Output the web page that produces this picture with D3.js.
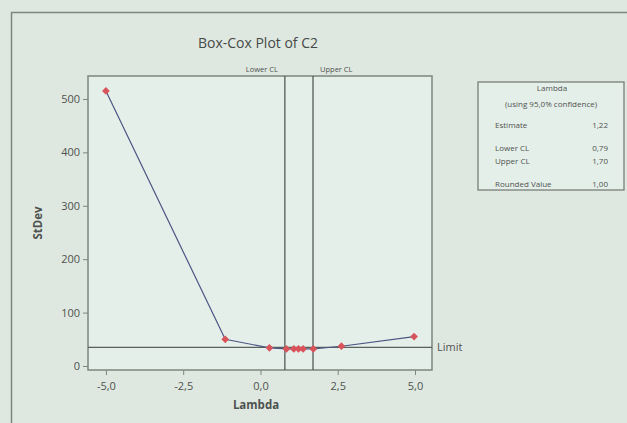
<!doctype html>
<html>
<head>
<meta charset="utf-8">
<title>Box-Cox Plot of C2</title>
<script src="https://cdn.jsdelivr.net/npm/d3@7"></script>
<style>
  body { margin: 0; background: #dfe8e0; }
  svg { display: block; }
</style>
</head>
<body>
<script>
// data
const lambdas = [-5.0, -1.14, 0.29, 0.84, 1.08, 1.23, 1.38, 1.71, 2.62, 4.97];
const stdevs  = [515, 50, 34, 32, 32, 32, 32, 32, 37, 55];
const xTicks = [-5, -2.5, 0, 2.5, 5];
const yTicks = [0, 100, 200, 300, 400, 500];
const lowerCL = 0.79, upperCL = 1.70, limit = 35;
const legendRows = [["Estimate", "1,22"], ["Lower CL", "0,79"], ["Upper CL", "1,70"], ["Rounded Value", "1,00"]];

const w = 627, h = 423;
const font = "'Open Sans', 'DejaVu Sans', sans-serif";
const txt = "#4e524f";

const svg = d3.select("body").append("svg")
  .attr("width", w).attr("height", h)
  .style("font-family", font);

svg.append("rect").attr("width", w).attr("height", h).attr("fill", "#dfe8e0");
// outer frame (runs off right and bottom)
svg.append("rect").attr("x", 11.5).attr("y", 12.5).attr("width", 640).attr("height", 440)
  .attr("fill", "none").attr("stroke", "#7d857f").attr("stroke-width", 1.5);

const pL = 88, pR = 432, pT = 76, pB = 370;
const x = d3.scaleLinear().domain([-5.58, 5.55]).range([pL, pR]);
const y = d3.scaleLinear().domain([-7.5, 543]).range([pB, pT]);

svg.append("rect").attr("x", pL).attr("y", pT).attr("width", pR - pL).attr("height", pB - pT)
  .attr("fill", "#e5efe9");

// axes
const fmt = d => d3.format(".1f")(d).replace(".", ",").replace("−", "-");
const xAxis = svg.append("g").attr("transform", `translate(0,${pB})`)
  .call(d3.axisBottom(x).tickValues(xTicks).tickFormat(fmt).tickSize(5).tickSizeOuter(0));
const yAxis = svg.append("g").attr("transform", `translate(${pL},0)`)
  .call(d3.axisLeft(y).tickValues(yTicks).tickSize(5).tickSizeOuter(0));
[xAxis, yAxis].forEach(g => {
  g.select(".domain").remove();
  g.selectAll("line").attr("stroke", "#7d857f");
  g.selectAll("text").attr("fill", txt).style("font-size", "11px").style("font-family", font);
});
xAxis.selectAll("text").attr("dy", "1.1em");

svg.append("rect").attr("x", pL).attr("y", pT).attr("width", pR - pL).attr("height", pB - pT)
  .attr("fill", "none").attr("stroke", "#7d857f").attr("stroke-width", 1.5);

// reference lines
[lowerCL, upperCL].forEach(v => {
  svg.append("line").attr("x1", x(v)).attr("x2", x(v)).attr("y1", pT).attr("y2", pB)
    .attr("stroke", "#4a4f4c").attr("stroke-width", 1.2);
});
svg.append("line").attr("x1", pL).attr("x2", pR).attr("y1", y(limit)).attr("y2", y(limit))
  .attr("stroke", "#5a605c").attr("stroke-width", 1.2);
svg.append("text").attr("x", pR + 5).attr("y", y(limit)).attr("dy", "0.35em")
  .attr("fill", txt).style("font-size", "11px").text("Limit");
svg.append("text").attr("x", x(lowerCL) - 7).attr("y", 72).attr("text-anchor", "end")
  .attr("fill", txt).style("font-size", "7.5px").text("Lower CL");
svg.append("text").attr("x", x(upperCL) + 7).attr("y", 72)
  .attr("fill", txt).style("font-size", "7.5px").text("Upper CL");

// series
const pts = lambdas.map((l, i) => [l, stdevs[i]]);
svg.append("path").datum(pts)
  .attr("d", d3.line().x(d => x(d[0])).y(d => y(d[1])))
  .attr("fill", "none").attr("stroke", "#4b5683").attr("stroke-width", 1.2);
svg.selectAll(".pt").data(pts).enter().append("path").attr("class", "pt")
  .attr("transform", d => `translate(${x(d[0])},${y(d[1])}) rotate(45)`)
  .attr("d", d3.symbol().type(d3.symbolSquare).size(30))
  .attr("fill", "#d9545a");

// titles
svg.append("text").attr("x", 258).attr("y", 48).attr("text-anchor", "middle")
  .attr("fill", "#464a47").style("font-size", "14px").text("Box-Cox Plot of C2");
svg.append("text").attr("x", 256).attr("y", 409).attr("text-anchor", "middle")
  .attr("fill", txt).style("font-size", "11.5px").style("font-weight", "bold").text("Lambda");
svg.append("text").attr("transform", "translate(42,223) rotate(-90)").attr("text-anchor", "middle")
  .attr("fill", txt).style("font-size", "11.5px").style("font-weight", "bold").text("StDev");

// legend table
const lg = svg.append("g");
lg.append("rect").attr("x", 478).attr("y", 82).attr("width", 146).attr("height", 108)
  .attr("fill", "#e5efe9").attr("stroke", "#6e756f").attr("stroke-width", 1.2);
lg.append("text").attr("x", 552).attr("y", 91).attr("text-anchor", "middle")
  .attr("fill", txt).style("font-size", "8px").text("Lambda");
lg.append("text").attr("x", 551).attr("y", 107).attr("text-anchor", "middle")
  .attr("fill", txt).style("font-size", "8px").text("(using 95,0% confidence)");
const rowY = [125, 148, 161, 184];
legendRows.forEach((r, i) => {
  lg.append("text").attr("x", 495).attr("y", rowY[i]).attr("dy", "0.35em")
    .attr("fill", txt).style("font-size", "8px").text(r[0]);
  lg.append("text").attr("x", 608).attr("y", rowY[i]).attr("dy", "0.35em").attr("text-anchor", "end")
    .attr("fill", txt).style("font-size", "8px").text(r[1]);
});
</script>
</body>
</html>
